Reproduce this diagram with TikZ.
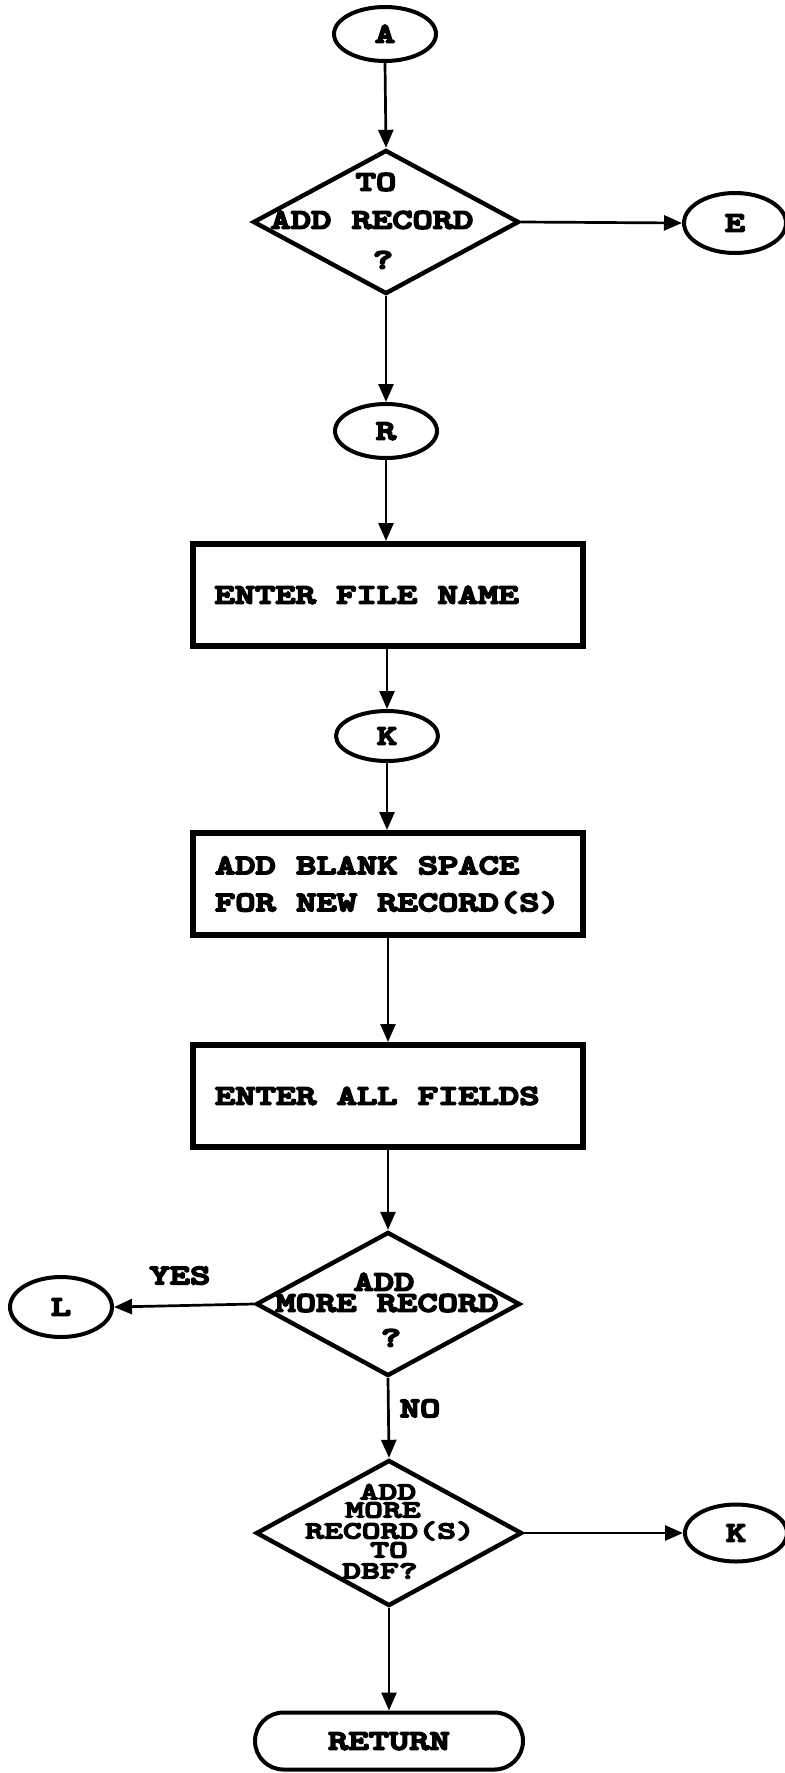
\documentclass[tikz,border=0pt]{standalone}
\usepackage{fontspec}
% heavy, wide slab-serif typewriter face for all labels
\newfontfamily\dotfont{lmmonolt10-bold.otf}[FakeBold=6.5,FakeStretch=1.38]
% a narrower-set variant for the stacked lines of the last decision
\newfontfamily\dotfontn{lmmonolt10-bold.otf}[FakeBold=5.5,FakeStretch=1.46]
\usetikzlibrary{shapes.geometric,shapes.misc,arrows.meta}

\begin{document}
\begin{tikzpicture}[x=0.5pt,y=-0.5pt,
  every node/.style={font=\dotfont\fontsize{14}{18.5}\selectfont,
                     inner sep=0pt, text height=8.55pt, text depth=0pt},
  conn/.style={draw, line width=2pt, ellipse, minimum width=51pt, minimum height=27pt},
  proc/.style={draw, line width=3pt, rectangle, minimum width=195pt, minimum height=51pt,
               inner xsep=11pt, text width=173pt, align=flush left},
  dec/.style={draw, line width=2.2pt, diamond, minimum width=133pt, minimum height=72pt},
  term/.style={draw, line width=2pt, rounded rectangle, minimum width=134pt, minimum height=28.5pt},
  flow/.style={line width=1.35pt, -{Triangle[length=9pt,width=7.5pt]}},
  lbl/.style={inner sep=0pt},
  stack/.style={inner sep=0pt, font=\dotfontn\fontsize{12.3}{12.3}\selectfont, text height=7.5pt}
]
\useasboundingbox (0,0) rectangle (785,1773);

% main column
\node[conn] (a) at (385,34) {A};
\node[dec]  (d1) at (386,222) {};
\node[lbl]  (d1l1) at (376,182) {TO};
\node[lbl]  (d1l2) at (372,220) {ADD RECORD};
\node[lbl]  (d1l3) at (383,260) {?};
\node[conn, minimum height=30pt] (e) at (735,223) {E};

\node[conn] (r) at (386,431) {R};
\node[proc] (fn) at (387.5,595) {\spaceskip=0pt ENTER FILE NAME};
\node[conn, minimum height=25pt] (k) at (387,736) {K};
\node[proc, text depth=18.5pt] (blank) at (388,884) {\spaceskip=0pt ADD BLANK SPACE\\FOR NEW RECORD(S)};
\node[proc] (all) at (388,1096) {\spaceskip=0pt ENTER ALL FIELDS};

\node[dec, minimum width=132pt] (d2) at (388,1304) {};
\node[lbl]  (d2l1) at (384,1282) {ADD};
\node[lbl]  (d2l2) at (387,1303) {MORE RECORD};
\node[lbl]  (d2l3) at (391,1338) {?};
\node[conn, minimum height=30pt] (l) at (61,1307) {L};

\node[dec, minimum height=73pt] (d3) at (389,1533) {};
\node[stack] (d3l1) at (388,1492) {ADD};
\node[stack] (d3l2) at (383,1510) {MORE};
\node[stack] (d3l3) at (390,1531) {RECORD(S)};
\node[stack] (d3l4) at (389,1550) {TO};
\node[stack] (d3l5) at (380,1571) {DBF?};
\node[conn, minimum height=28.5pt] (k2) at (736,1533) {K};

\node[term] (ret) at (389,1741) {RETURN};

% connectors
\draw[flow] (a.south) -- (d1.north);
\draw[flow] (d1.east) -- (e.west);
\draw[flow] (d1.south) -- (r.north);
\draw[flow] (r.south) -- (fn.north -| r.south);
\draw[flow] (fn.south -| k.north) -- (k.north);
\draw[flow] (k.south) -- (blank.north -| k.south);
\draw[flow] (blank.south) -- (all.north);
\draw[flow] (all.south -| d2.north) -- (d2.north);
\draw[flow] (d2.west) -- node[lbl, above=10pt, xshift=-2pt] (yes) {YES} (l.east);
\draw[flow] (d2.south) -- node[lbl, right=5pt, pos=0.38] (no) {NO} (d3.north);
\draw[flow] (d3.east) -- (k2.west);
\draw[flow] (d3.south) -- (ret.north);
\end{tikzpicture}
\end{document}
